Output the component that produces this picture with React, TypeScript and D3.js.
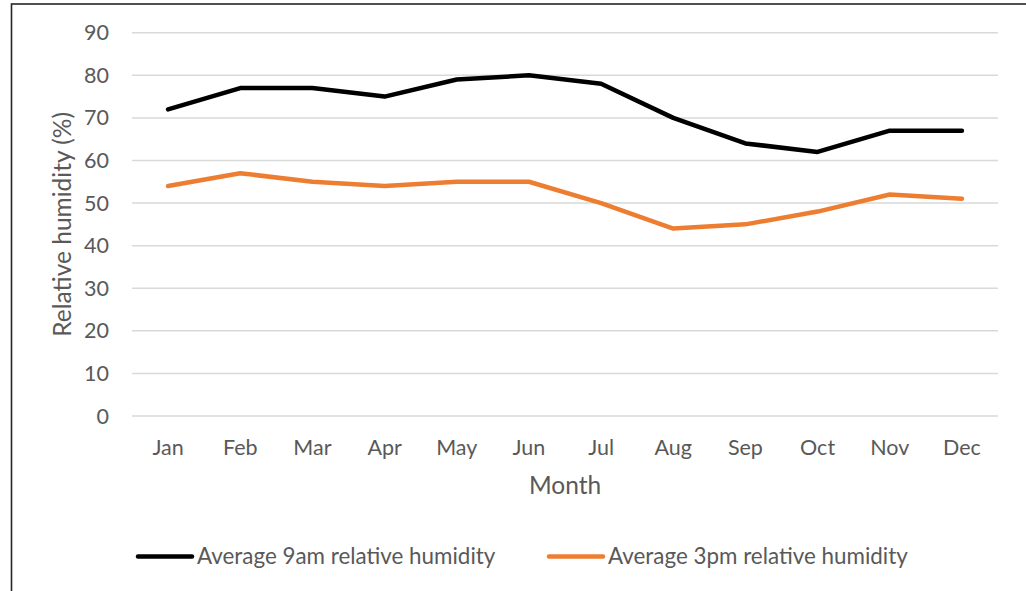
import { FC } from 'react';
import * as d3 from 'd3';

const months = ['Jan', 'Feb', 'Mar', 'Apr', 'May', 'Jun', 'Jul', 'Aug', 'Sep', 'Oct', 'Nov', 'Dec'];
const humidity9am = [72, 77, 77, 75, 79, 80, 78, 70, 64, 62, 67, 67];
const humidity3pm = [54, 57, 55, 54, 55, 55, 50, 44, 45, 48, 52, 51];
const yTicks = [0, 10, 20, 30, 40, 50, 60, 70, 80, 90];

const series = [
  { name: 'Average 9am relative humidity', values: humidity9am, color: '#000000' },
  { name: 'Average 3pm relative humidity', values: humidity3pm, color: '#ED7D31' },
];

const W = 1026;
const H = 591;
const font = 'Lato, "Open Sans", sans-serif';
const textColor = '#595959';

const App: FC = () => {
  const x = d3.scaleBand<string>().domain(months).range([132, 998]);
  const y = d3.scaleLinear().domain([0, 90]).range([416, 32.7]);

  const line = d3
    .line<number>()
    .x((_d, i) => (x(months[i]) ?? 0) + x.bandwidth() / 2)
    .y((d) => y(d));

  const legendX = [138, 549];

  return (
    <svg
      width={W}
      height={H}
      style={{ position: 'absolute', left: 0, top: 0, display: 'block', background: '#fff' }}
      fontFamily={font}
    >
      <rect x={11.5} y={4} width={W + 10} height={H + 10} fill="#fff" stroke="#262626" strokeWidth={1.6} />

      {/* gridlines */}
      {yTicks.map((t) => (
        <line key={t} x1={132} x2={998} y1={y(t)} y2={y(t)} stroke="#d9d9d9" strokeWidth={1.5} />
      ))}

      {/* y tick labels */}
      {yTicks.map((t) => (
        <text key={t} x={109} y={y(t)} dy="0.35em" textAnchor="end" fontSize={21.5} fill={textColor}>
          {t}
        </text>
      ))}

      {/* x tick labels */}
      {months.map((m) => (
        <text
          key={m}
          x={(x(m) ?? 0) + x.bandwidth() / 2}
          y={455}
          textAnchor="middle"
          fontSize={21.5}
          fill={textColor}
        >
          {m}
        </text>
      ))}

      <text x={565} y={494} textAnchor="middle" fontSize={24.5} fill={textColor}>
        Month
      </text>
      <text
        transform={`translate(71, ${(y(0) + y(90)) / 2}) rotate(-90)`}
        textAnchor="middle"
        fontSize={24.5}
        fill={textColor}
      >
        Relative humidity (%)
      </text>

      {series.map((s) => (
        <path
          key={s.name}
          d={line(s.values) ?? ''}
          fill="none"
          stroke={s.color}
          strokeWidth={4.5}
          strokeLinejoin="round"
          strokeLinecap="round"
        />
      ))}

      {/* legend */}
      {series.map((s, i) => (
        <g key={s.name}>
          <line
            x1={legendX[i]}
            x2={legendX[i] + 54}
            y1={556.5}
            y2={556.5}
            stroke={s.color}
            strokeWidth={4.5}
            strokeLinecap="round"
          />
          <text x={legendX[i] + 59} y={556.5} dy="0.35em" fontSize={22.4} fill={textColor}>
            {s.name}
          </text>
        </g>
      ))}
    </svg>
  );
};

export default App;
